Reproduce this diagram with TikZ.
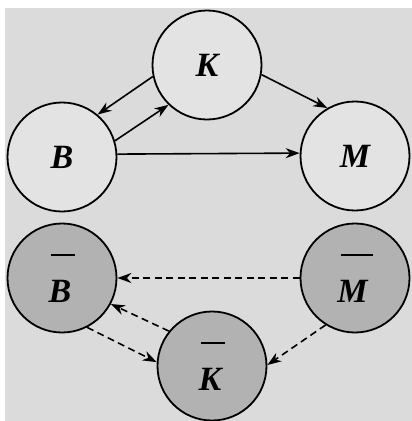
\documentclass[tikz,border=0pt]{standalone}
\usepackage{fontspec}
\setmainfont{Liberation Serif}
\usetikzlibrary{arrows.meta}
\tikzset{
  bgfill/.style={fill=black!14},
  state/.style={circle, draw=black, line width=1.8pt, minimum size=109pt, inner sep=0pt,
    font=\fontsize{34}{37}\selectfont\bfseries\itshape},
  light/.style={state, fill=black!11},
  darkst/.style={state, fill=black!30},
  conn/.style={line width=1.6pt, -{Stealth[length=14pt,width=10pt,inset=4.5pt]}},
  dconn/.style={conn, dash pattern=on 7pt off 4.5pt}
}
\newcommand{\barred}[1]{\setbox0\hbox{#1}\dimen0=\wd0\vbox{\hbox{\kern0.12\dimen0\vrule width 1.05\dimen0 height 2.2pt}\kern9pt\box0}}
\begin{document}
\begin{tikzpicture}[x=1pt,y=-1pt]
\useasboundingbox (0,0) rectangle (412,421);
\fill[white] (0,0) rectangle (412,421);
\fill[bgfill] (5,8) rectangle (412,421);
\node[light] (K) at (207,65) {K};
\node[light] (B) at (62,157) {B};
\node[light] (M) at (355,156) {M};
\node[darkst] (Bb) at (62,278) {\barred{B}};
\node[darkst] (Mb) at (355,278) {\barred{M}};
\node[darkst] (Kb) at (212,366) {\barred{K}};
\draw[conn] (K.192) -- (B.50);
\draw[conn] (B.17) -- (K.226);
\draw[conn] (K.350) -- (M.120);
\draw[conn] (B.3) -- (M.177);
\draw[dconn] (Mb.180) -- (Bb.0);
\draw[dconn] (Bb.297) -- (Kb.176);
\draw[dconn] (Kb.141) -- (Bb.332);
\draw[dconn] (Mb.238) -- (Kb.1);
\end{tikzpicture}
\end{document}
